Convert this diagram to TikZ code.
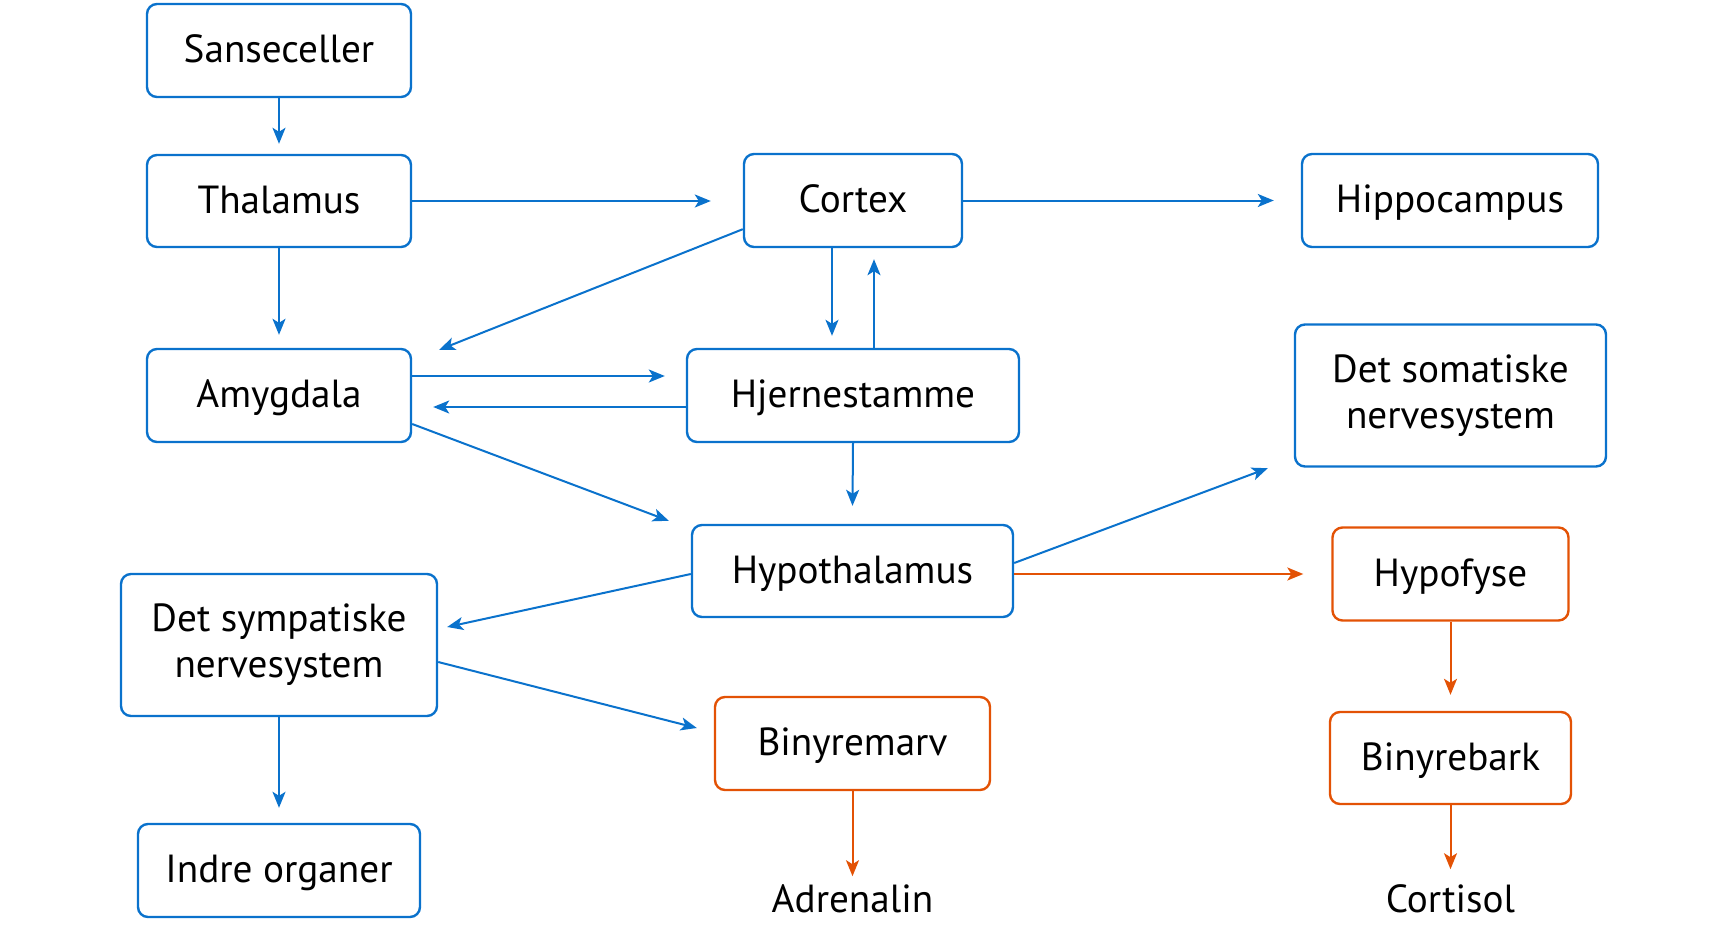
\documentclass[tikz,border=0pt]{standalone}
\usepackage{fontspec}
\setmainfont{PT Sans}
\usetikzlibrary{arrows.meta,calc}
\definecolor{bl}{HTML}{0A72CC}
\definecolor{orr}{HTML}{E35205}
\tikzset{
  box/.style={draw=bl, line width=1.2pt, rounded corners=5pt, inner sep=0pt, align=center, font=\fontsize{19.6}{23}\selectfont},
  one/.style={text height=16pt, text depth=4pt},
  obox/.style={box, draw=orr},
  lbl/.style={inner sep=0pt, one, font=\fontsize{19.6}{23}\selectfont},
  arr/.style={draw=bl, line width=1pt, -{Stealth[length=8pt,width=6.5pt,inset=2pt]}},
  oarr/.style={arr, draw=orr},
}
\begin{document}
\begin{tikzpicture}[x=0.5pt,y=-0.5pt]
\useasboundingbox (0,0) rectangle (1726,926);
\node[box, one, minimum width=132pt, minimum height=46.5pt] (sans) at (279,50.5) {Sanseceller};
\node[box, one, minimum width=132pt, minimum height=46pt] (thal) at (279,201) {Thalamus};
\node[box, one, minimum width=132pt, minimum height=46.5pt] (amy) at (279,395.5) {Amygdala};
\node[box, one, minimum width=109pt, minimum height=46.5pt] (ctx) at (853,200.5) {Cortex};
\node[box, one, minimum width=148pt, minimum height=46.5pt] (hip) at (1450,200.5) {Hippocampus};
\node[box, one, minimum width=166pt, minimum height=46.5pt] (hje) at (853,395.5) {Hjernestamme};
\node[box, one, minimum width=160.5pt, minimum height=46pt] (hyp) at (852.5,571) {Hypothalamus};
\node[box, minimum width=155.5pt, minimum height=71pt] (som) at (1450.5,395.5) {Det somatiske\\nervesystem};
\node[obox, one, minimum width=118pt, minimum height=46.5pt] (hyf) at (1450.5,574) {Hypofyse};
\node[box, minimum width=158pt, minimum height=71pt] (sym) at (279,645) {Det sympatiske\\nervesystem};
\node[box, one, minimum width=141pt, minimum height=46.5pt] (ind) at (279,870.5) {Indre organer};
\node[obox, one, minimum width=137.5pt, minimum height=46.5pt] (bm) at (852.5,743.5) {Binyremarv};
\node[obox, one, minimum width=120.5pt, minimum height=46pt] (bb) at (1450.5,758) {Binyrebark};
\node[lbl] (adr) at (852.5,900) {Adrenalin};
\node[lbl] (cort) at (1450.5,900) {Cortisol};

\draw[arr] (sans.south) -- ($(thal.north)+(0,-10)$);
\draw[arr] (thal.east) -- ($(thal.east -| ctx.west)+(-32,0)$);
\draw[arr] (ctx.east) -- ($(ctx.east -| hip.west)+(-27,0)$);
\draw[arr] (thal.south) -- ($(amy.north)+(0,-13)$);
\draw[arr] ($(ctx.south west)+(0,-19)$) -- ($(amy.north east)+(27,2)$);
\draw[arr] ($(ctx.south)+(-21,0)$) -- ($(hje.north)+(-21,-12)$);
\draw[arr] ($(hje.north)+(21,0)$) -- ($(ctx.south)+(21,11)$);
\draw[arr] ($(amy.east)+(0,-19.5)$) -- ($(hje.west)+(-21,-19.5)$);
\draw[arr] ($(hje.west)+(0,11.5)$) -- ($(amy.east)+(21,11.5)$);
\draw[arr] ($(amy.east)+(0,28.5)$) -- ($(hyp.north west)+(-22,-3)$);
\draw[arr] (hje.south) -- ($(hyp.north)+(0,-18)$);
\draw[arr] ($(hyp.east)+(0,-8)$) -- ($(som.south west)+(-26,0.5)$);
\draw[oarr] (hyp.east |- hyf.west) -- ($(hyf.west)+(-28,0)$);
\draw[arr] ($(hyp.west)+(0,3)$) -- ($(sym.east)+(9,-18)$);
\draw[arr] ($(sym.east)+(0,17)$) -- ($(bm.west)+(-17,-15.5)$);
\draw[arr] (sym.south) -- ($(ind.north)+(0,-15)$);
\draw[oarr] (bm.south) -- ($(bm.south)+(0,85)$);
\draw[oarr] (hyf.south) -- ($(bb.north)+(0,-16)$);
\draw[oarr] (bb.south) -- ($(bb.south)+(0,64)$);
\end{tikzpicture}
\end{document}
